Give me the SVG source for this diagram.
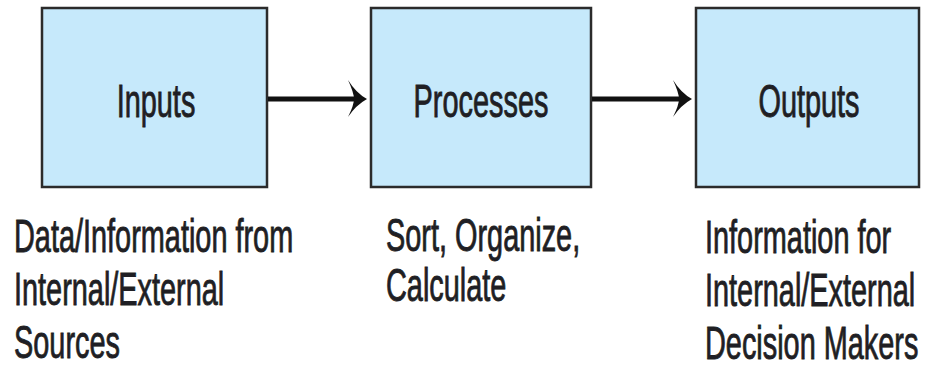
<svg xmlns="http://www.w3.org/2000/svg" width="925" height="374" viewBox="0 0 925 374">
  <defs>
    <style>
      .box { fill: #c6e9fb; stroke: #2b2b2b; stroke-width: 2.5; }
      .lbl { font-family: "Liberation Sans", Arial, sans-serif; font-size: 46px; fill: #1f1f24; stroke: #1f1f24; stroke-width: 0.9; }
      .mid { text-anchor: middle; }
      .link { stroke: #111; stroke-width: 5; fill: none; }
      .head { fill: #111; }
    </style>
  </defs>
  <rect width="925" height="374" fill="#ffffff"/>

  <!-- Inputs: box, title and caption (narrow type via horizontal scale) -->
  <g id="inputs">
    <rect class="box" x="42" y="8" width="225" height="179"/>
    <text class="lbl mid" transform="translate(156 117) scale(0.628 1)">Inputs</text>
    <text class="lbl" transform="translate(14 252) scale(0.628 1)">Data/Information from</text>
    <text class="lbl" transform="translate(14 305) scale(0.628 1)">Internal/External</text>
    <text class="lbl" transform="translate(14 358) scale(0.628 1)">Sources</text>
  </g>

  <!-- Processes -->
  <g id="processes">
    <rect class="box" x="371" y="8" width="220" height="179"/>
    <text class="lbl mid" transform="translate(481 117) scale(0.628 1)">Processes</text>
    <text class="lbl" transform="translate(386 251) scale(0.628 1)">Sort, Organize,</text>
    <text class="lbl" transform="translate(386 301) scale(0.628 1)">Calculate</text>
  </g>

  <!-- Outputs -->
  <g id="outputs">
    <rect class="box" x="696" y="8" width="223" height="179"/>
    <text class="lbl mid" transform="translate(809 117) scale(0.628 1)">Outputs</text>
    <text class="lbl" transform="translate(705 253) scale(0.628 1)">Information for</text>
    <text class="lbl" transform="translate(705 306) scale(0.628 1)">Internal/External</text>
    <text class="lbl" transform="translate(705 359) scale(0.628 1)">Decision Makers</text>
  </g>

  <!-- Connectors: thick shafts with swept-back heads -->
  <g id="connectors">
    <line class="link" x1="268" y1="99" x2="362" y2="99"/>
    <path class="head" d="M348,80 Q356,93 367,99 Q356,105 348,117 Q354,105 354,99 Q354,93 348,80 Z"/>
    <line class="link" x1="592" y1="99" x2="687" y2="99"/>
    <path class="head" d="M673,80 Q681,93 692,99 Q681,105 673,117 Q679,105 679,99 Q679,93 673,80 Z"/>
  </g>
</svg>
